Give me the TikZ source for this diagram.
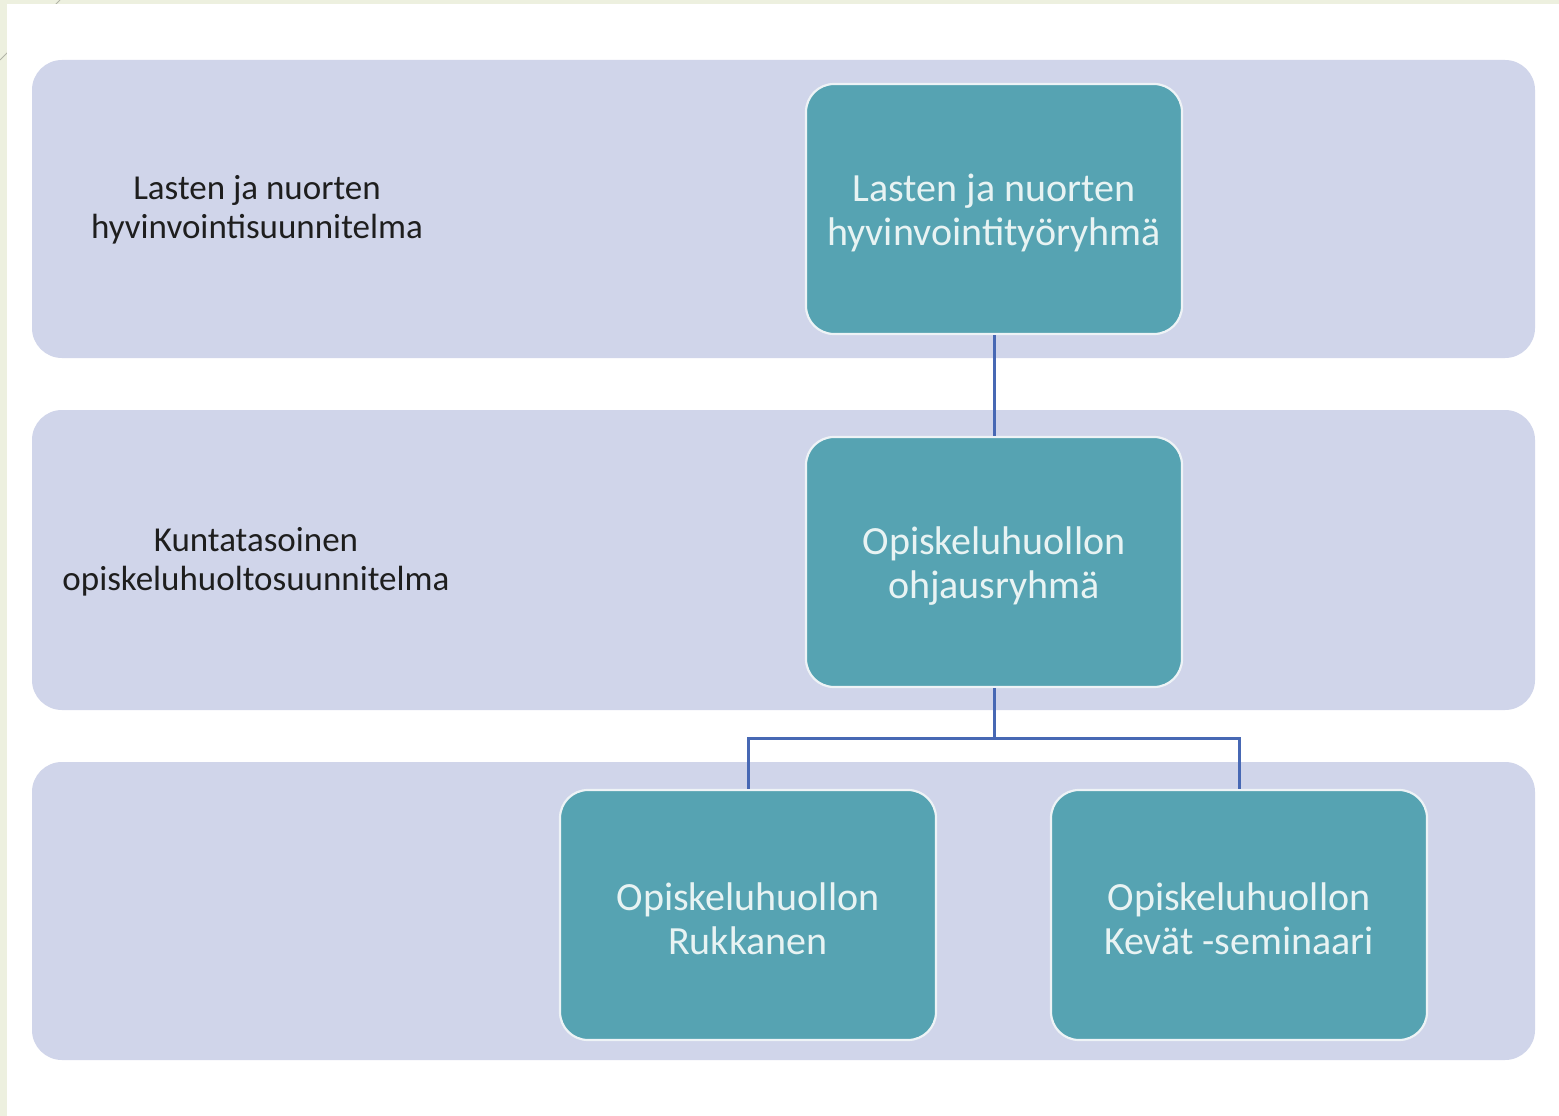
\documentclass[tikz,border=0pt]{standalone}
\usepackage{fontspec}
\setmainfont{Carlito}
\begin{document}
\begin{tikzpicture}[x=1pt,y=-1pt,
  band/.style={fill=bandc, draw=none, rounded corners=30pt},
  orgbox/.style={fill=boxc, draw=boxedge, line width=2.2pt, rounded corners=28pt,
    minimum width=376pt, minimum height=250pt, inner sep=0pt},
  boxlabel/.style={align=center, text=boxtext, inner sep=0pt, font=\fontsize{40}{44}\selectfont},
  sidelabel/.style={align=center, text=labeltext, font=\fontsize{35}{38.5}\selectfont},
  conn/.style={draw=connc, line width=3pt}]
\definecolor{bandc}{HTML}{D0D5EA}
\definecolor{boxc}{HTML}{56A3B2}
\definecolor{boxedge}{HTML}{EEF3F6}
\definecolor{boxtext}{HTML}{E8F3F3}
\definecolor{labeltext}{HTML}{1E1E1E}
\definecolor{connc}{HTML}{4768B4}
\definecolor{framec}{HTML}{EDF0DF}
\useasboundingbox (0,0) rectangle (1559,1116);
\fill[framec] (0,0) rectangle (1559,1116);
\draw[draw=black!25!framec, line width=1pt] (60,0) -- (0,60);
\fill[white] (7,4) rectangle (1559,1116);
% bands
\path[band] (32,60) rectangle (1535,358);
\path[band] (32,410) rectangle (1535,710);
\path[band] (32,762) rectangle (1535,1060);
% labels
\node[sidelabel] (l1) at (257,210) {Lasten ja nuorten\\hyvinvointisuunnitelma};
\node[sidelabel] (l2) at (256,562) {Kuntatasoinen\\opiskeluhuoltosuunnitelma};
% boxes
\node[orgbox] (top) at (994,209) {};
\node[orgbox] (mid) at (994,562) {};
\node[orgbox] (bl) at (748,915) {};
\node[orgbox] (br) at (1239,915) {};
\node[boxlabel] (topt) at ([yshift=-4pt]top.center) {Lasten ja nuorten\\hyvinvointityöryhmä};
\node[boxlabel] (midt) at ([yshift=-4pt]mid.center) {Opiskeluhuollon\\ohjausryhmä};
\node[boxlabel] (blt) at ([yshift=-4pt]bl.center) {Opiskeluhuollon\\Rukkanen};
\node[boxlabel] (brt) at ([yshift=-4pt]br.center) {Opiskeluhuollon\\Kevät -seminaari};
% connectors
\draw[conn] (top.south) -- (mid.north);
\coordinate (split) at (994,738);
\draw[conn] (mid.south) -- (split);
\draw[conn] (bl.north) |- (split) -| (br.north);
\end{tikzpicture}
\end{document}
